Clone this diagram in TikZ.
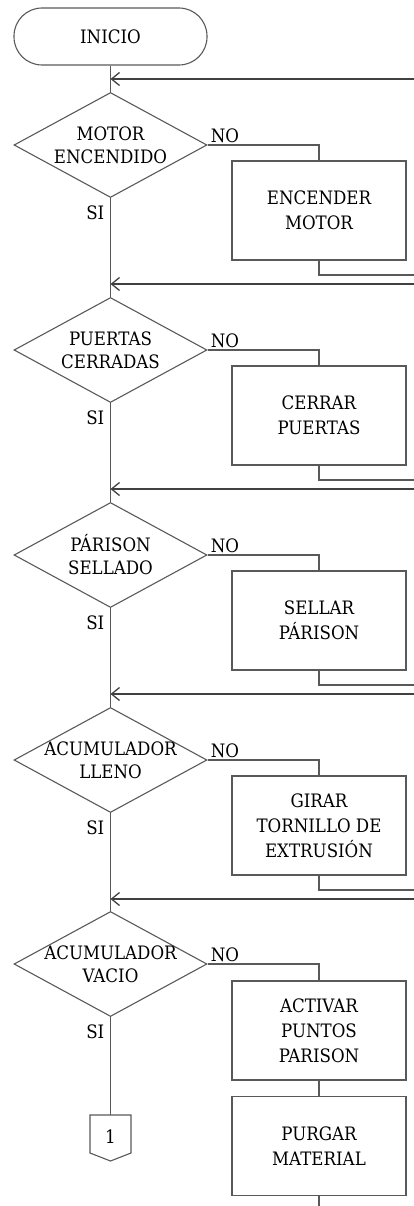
\documentclass[tikz,border=0pt]{standalone}
\usepackage{fontspec}
\setmainfont{DejaVu Serif}[FakeStretch=0.9]
\usetikzlibrary{shapes.geometric,arrows.meta}

\begin{document}
\begin{tikzpicture}[x=1pt,y=-1pt,
  every node/.style={font=\fontsize{18.5}{25}\selectfont},
  flow/.style={draw=black!65,line width=1.1pt},
  back/.style={draw=black!75,line width=1.6pt,-{Straight Barb[length=8pt,width=13pt,line width=1.3pt]}},
  startbox/.style={flow,rectangle,rounded corners=28pt,minimum width=193pt,minimum height=57pt},
  ask/.style={flow,diamond,minimum width=193pt,minimum height=105pt,inner sep=0pt},
  task/.style={flow,rectangle,minimum width=174pt,minimum height=99pt,align=center},
  txt/.style={align=center,inner sep=0pt,font=\fontsize{18.5}{23}\selectfont},
  tag/.style={inner sep=0pt}]
\useasboundingbox (0,0) rectangle (414,1206);

% Start
\node[startbox] (inicio) at (110.5,36.5) {INICIO};

% Decisions
\node[ask] (d1) at (110.5,145) {};
\node[txt] (t1) at (d1) {MOTOR\\ENCENDIDO};
\node[ask] (d2) at (110.5,350) {};
\node[txt] (t2) at (d2) {PUERTAS\\CERRADAS};
\node[ask] (d3) at (110.5,555) {};
\node[txt] (t3) at (d3) {PÁRISON\\SELLADO};
\node[ask] (d4) at (110.5,760) {};
\node[txt] (t4) at (d4) {ACUMULADOR\\LLENO};
\node[ask] (d5) at (110.5,964) {};
\node[txt] (t5) at (d5) {ACUMULADOR\\VACIO};

% Tasks
\node[task] (b1) at (319,210.5) {ENCENDER\\MOTOR};
\node[task] (b2) at (319,415.5) {CERRAR\\PUERTAS};
\node[task] (b3) at (319,620.5) {SELLAR\\PÁRISON};
\node[task] (b4) at (319,825.5) {GIRAR\\TORNILLO DE\\EXTRUSIÓN};
\node[task] (b5) at (319,1030.5) {ACTIVAR\\PUNTOS\\PARISON};
\node[task] (b6) at (319,1146) {PURGAR\\MATERIAL};

% Joins on the main line and free ends at the right edge
\coordinate (j1) at (110.5,79);
\coordinate (j2) at (110.5,284);
\coordinate (j3) at (110.5,489);
\coordinate (j4) at (110.5,694);
\coordinate (j5) at (110.5,899);
\coordinate (r1) at (414,79);
\coordinate (r2) at (414,284);
\coordinate (r3) at (414,489);
\coordinate (r4) at (414,694);
\coordinate (r5) at (414,899);
\coordinate (o1) at (414,275);
\coordinate (o2) at (414,480);
\coordinate (o3) at (414,685);
\coordinate (o4) at (414,890);
\coordinate (e1) at (319,1206);

% Off-page connector
\coordinate (c1) at (110.5,1115);
\draw[flow] (c1) -- ++(-20.5,0) -- ++(0,38) -- ++(20.5,8) -- ++(20.5,-8) -- ++(0,-38) -- cycle;
\node (one) at (110.5,1137) {1};

% Main line
\draw[flow] (inicio.south) -- (d1.north);
\draw[flow] (d1.south) -- (d2.north);
\draw[flow] (d2.south) -- (d3.north);
\draw[flow] (d3.south) -- (d4.north);
\draw[flow] (d4.south) -- (d5.north);
\draw[flow] (d5.south) -- (c1);

% NO branches
\draw[flow] (d1.east) -| (b1.north);
\draw[flow] (d2.east) -| (b2.north);
\draw[flow] (d3.east) -| (b3.north);
\draw[flow] (d4.east) -| (b4.north);
\draw[flow] (d5.east) -| (b5.north);
\draw[flow] (b5) -- (b6);
\draw[flow] (b6.south) -- (e1);

% Exits to the right
\draw[flow] (b1.south) |- (o1);
\draw[flow] (b2.south) |- (o2);
\draw[flow] (b3.south) |- (o3);
\draw[flow] (b4.south) |- (o4);

% Returns
\draw[back] (r1) -- (j1);
\draw[back] (r2) -- (j2);
\draw[back] (r3) -- (j3);
\draw[back] (r4) -- (j4);
\draw[back] (r5) -- (j5);

% Labels
\node[tag,anchor=south west] (no1) at ([xshift=3pt,yshift=2pt]d1.east) {NO};
\node[tag,anchor=south west] (no2) at ([xshift=3pt,yshift=2pt]d2.east) {NO};
\node[tag,anchor=south west] (no3) at ([xshift=3pt,yshift=2pt]d3.east) {NO};
\node[tag,anchor=south west] (no4) at ([xshift=3pt,yshift=2pt]d4.east) {NO};
\node[tag,anchor=south west] (no5) at ([xshift=3pt,yshift=2pt]d5.east) {NO};
\node[tag,anchor=north east] (si1) at ([xshift=-6pt,yshift=-8pt]d1.south) {SI};
\node[tag,anchor=north east] (si2) at ([xshift=-6pt,yshift=-8pt]d2.south) {SI};
\node[tag,anchor=north east] (si3) at ([xshift=-6pt,yshift=-8pt]d3.south) {SI};
\node[tag,anchor=north east] (si4) at ([xshift=-6pt,yshift=-8pt]d4.south) {SI};
\node[tag,anchor=north east] (si5) at ([xshift=-6pt,yshift=-8pt]d5.south) {SI};
\end{tikzpicture}
\end{document}
